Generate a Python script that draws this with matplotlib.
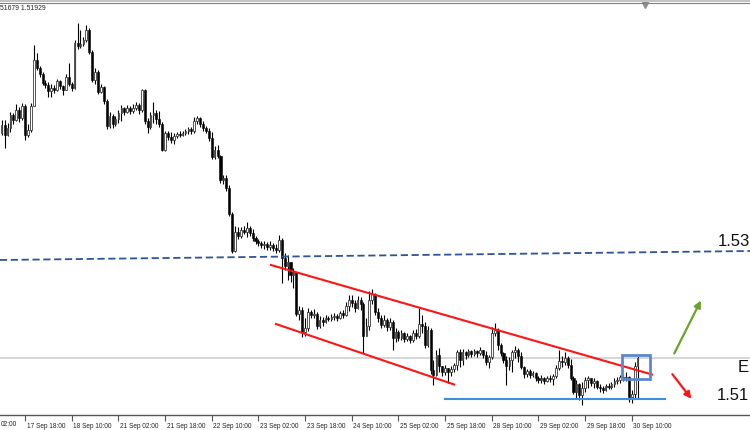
import numpy as np
import matplotlib
matplotlib.use("Agg")
import matplotlib.pyplot as plt
from matplotlib.patches import Rectangle
from matplotlib import transforms

# H1 bars, 17 Sep 10:00 .. 30 Sep 12:00 (open of each bar = previous close)
open0 = 1.5421
closes = [
    1.5429, 1.5419, 1.5426, 1.5439, 1.5434, 1.5444, 1.5436, 1.5448, 1.5419, 1.5424,
    1.5448, 1.5494, 1.5486, 1.5480, 1.5471, 1.5469, 1.5463, 1.5466, 1.5464, 1.5473,
    1.5468, 1.5464, 1.5477, 1.5470, 1.5466, 1.5511, 1.5508, 1.5510, 1.5514, 1.5524,
    1.5502, 1.5474, 1.5482, 1.5462, 1.5467, 1.5453, 1.5428, 1.5438, 1.5430, 1.5435,
    1.5441, 1.5446, 1.5442, 1.5446, 1.5443, 1.5446, 1.5449, 1.5444, 1.5464, 1.5433,
    1.5427, 1.5439, 1.5441, 1.5435, 1.5430, 1.5404, 1.5421, 1.5417, 1.5414, 1.5418,
    1.5420, 1.5419, 1.5421, 1.5423, 1.5425, 1.5423, 1.5433, 1.5436, 1.5430, 1.5426,
    1.5423, 1.5416, 1.5397, 1.5404, 1.5398, 1.5374, 1.5376, 1.5366, 1.5340, 1.5303,
    1.5322, 1.5318, 1.5324, 1.5322, 1.5326, 1.5321, 1.5316, 1.5313, 1.5311, 1.5309,
    1.5310, 1.5307, 1.5309, 1.5306, 1.5304, 1.5314, 1.5296, 1.5288, 1.5292, 1.5279,
    1.5282, 1.5240, 1.5244, 1.5222, 1.5226, 1.5242, 1.5239, 1.5240, 1.5228, 1.5234,
    1.5232, 1.5236, 1.5235, 1.5237, 1.5238, 1.5236, 1.5241, 1.5239, 1.5248, 1.5254,
    1.5251, 1.5246, 1.5254, 1.5250, 1.5218, 1.5228, 1.5254, 1.5260, 1.5242, 1.5236,
    1.5229, 1.5234, 1.5227, 1.5232, 1.5216, 1.5222, 1.5216, 1.5221, 1.5215, 1.5218,
    1.5214, 1.5221, 1.5218, 1.5230, 1.5228, 1.5209, 1.5224, 1.5184, 1.5179, 1.5199,
    1.5188, 1.5182, 1.5186, 1.5182, 1.5185, 1.5189, 1.5202, 1.5194, 1.5202, 1.5199,
    1.5203, 1.5200, 1.5203, 1.5201, 1.5204, 1.5199, 1.5192, 1.5197, 1.5221, 1.5224,
    1.5209, 1.5201, 1.5194, 1.5188, 1.5194, 1.5202, 1.5204, 1.5198, 1.5187, 1.5180,
    1.5183, 1.5179, 1.5181, 1.5176, 1.5174, 1.5176, 1.5173, 1.5176, 1.5175, 1.5178,
    1.5186, 1.5193, 1.5192, 1.5196, 1.5189, 1.5176, 1.5162, 1.5170, 1.5159, 1.5166,
    1.5174, 1.5176, 1.5171, 1.5173, 1.5167, 1.5166, 1.5164, 1.5168, 1.5167, 1.5170,
    1.5173, 1.5174, 1.5177, 1.5176, 1.5177, 1.5157, 1.5160, 1.5188, 1.5196,
]
highs = [
    1.5434, 1.5434, 1.5431, 1.5442, 1.5441, 1.5450, 1.5447, 1.5451, 1.5450, 1.5430,
    1.5451, 1.5509, 1.5501, 1.5488, 1.5482, 1.5474, 1.5472, 1.5470, 1.5469, 1.5475,
    1.5474, 1.5469, 1.5480, 1.5491, 1.5472, 1.5514, 1.5531, 1.5524, 1.5517, 1.5529,
    1.5526, 1.5504, 1.5486, 1.5484, 1.5470, 1.5468, 1.5455, 1.5442, 1.5440, 1.5438,
    1.5444, 1.5449, 1.5447, 1.5449, 1.5448, 1.5450, 1.5452, 1.5451, 1.5465, 1.5465,
    1.5436, 1.5442, 1.5452, 1.5444, 1.5443, 1.5432, 1.5423, 1.5423, 1.5422, 1.5421,
    1.5422, 1.5423, 1.5423, 1.5425, 1.5427, 1.5427, 1.5437, 1.5438, 1.5437, 1.5433,
    1.5428, 1.5426, 1.5422, 1.5408, 1.5409, 1.5399, 1.5379, 1.5379, 1.5369, 1.5342,
    1.5328, 1.5327, 1.5327, 1.5328, 1.5332, 1.5328, 1.5325, 1.5318, 1.5315, 1.5313,
    1.5313, 1.5312, 1.5313, 1.5311, 1.5310, 1.5319, 1.5316, 1.5301, 1.5299, 1.5292,
    1.5286, 1.5282, 1.5248, 1.5247, 1.5236, 1.5246, 1.5244, 1.5245, 1.5242, 1.5238,
    1.5237, 1.5239, 1.5238, 1.5240, 1.5241, 1.5240, 1.5243, 1.5244, 1.5252, 1.5259,
    1.5259, 1.5254, 1.5258, 1.5257, 1.5252, 1.5236, 1.5263, 1.5265, 1.5261, 1.5246,
    1.5239, 1.5239, 1.5236, 1.5236, 1.5234, 1.5226, 1.5224, 1.5224, 1.5222, 1.5221,
    1.5219, 1.5224, 1.5225, 1.5246, 1.5239, 1.5232, 1.5228, 1.5226, 1.5194, 1.5204,
    1.5206, 1.5188, 1.5189, 1.5186, 1.5188, 1.5191, 1.5204, 1.5205, 1.5205, 1.5203,
    1.5205, 1.5204, 1.5205, 1.5204, 1.5207, 1.5204, 1.5203, 1.5199, 1.5227, 1.5231,
    1.5226, 1.5211, 1.5202, 1.5198, 1.5197, 1.5204, 1.5208, 1.5206, 1.5202, 1.5188,
    1.5185, 1.5185, 1.5183, 1.5182, 1.5178, 1.5179, 1.5177, 1.5178, 1.5179, 1.5180,
    1.5189, 1.5204, 1.5198, 1.5202, 1.5198, 1.5195, 1.5178, 1.5174, 1.5171, 1.5172,
    1.5177, 1.5178, 1.5176, 1.5176, 1.5174, 1.5170, 1.5168, 1.5170, 1.5171, 1.5172,
    1.5176, 1.5177, 1.5179, 1.5179, 1.5182, 1.5178, 1.5164, 1.5192, 1.5198,
]
lows = [
    1.5419, 1.5406, 1.5418, 1.5422, 1.5430, 1.5433, 1.5432, 1.5434, 1.5414, 1.5417,
    1.5422, 1.5448, 1.5484, 1.5477, 1.5469, 1.5466, 1.5457, 1.5457, 1.5461, 1.5463,
    1.5465, 1.5459, 1.5464, 1.5468, 1.5463, 1.5465, 1.5505, 1.5506, 1.5508, 1.5512,
    1.5500, 1.5472, 1.5470, 1.5460, 1.5461, 1.5450, 1.5425, 1.5426, 1.5426, 1.5428,
    1.5431, 1.5433, 1.5439, 1.5441, 1.5440, 1.5441, 1.5444, 1.5440, 1.5442, 1.5430,
    1.5421, 1.5425, 1.5431, 1.5430, 1.5427, 1.5403, 1.5403, 1.5414, 1.5411, 1.5410,
    1.5416, 1.5417, 1.5418, 1.5419, 1.5420, 1.5420, 1.5421, 1.5430, 1.5427, 1.5423,
    1.5421, 1.5413, 1.5395, 1.5395, 1.5396, 1.5371, 1.5370, 1.5363, 1.5338, 1.5301,
    1.5302, 1.5315, 1.5316, 1.5320, 1.5317, 1.5318, 1.5313, 1.5310, 1.5308, 1.5306,
    1.5305, 1.5304, 1.5304, 1.5303, 1.5301, 1.5302, 1.5271, 1.5284, 1.5274, 1.5272,
    1.5266, 1.5238, 1.5234, 1.5217, 1.5218, 1.5223, 1.5236, 1.5236, 1.5225, 1.5226,
    1.5228, 1.5231, 1.5233, 1.5233, 1.5234, 1.5233, 1.5235, 1.5236, 1.5238, 1.5243,
    1.5247, 1.5242, 1.5245, 1.5244, 1.5201, 1.5221, 1.5224, 1.5250, 1.5239, 1.5232,
    1.5226, 1.5227, 1.5223, 1.5224, 1.5204, 1.5212, 1.5213, 1.5214, 1.5212, 1.5213,
    1.5211, 1.5212, 1.5215, 1.5216, 1.5221, 1.5206, 1.5207, 1.5180, 1.5169, 1.5178,
    1.5182, 1.5178, 1.5179, 1.5171, 1.5178, 1.5182, 1.5184, 1.5187, 1.5189, 1.5195,
    1.5197, 1.5197, 1.5198, 1.5197, 1.5199, 1.5196, 1.5189, 1.5186, 1.5195, 1.5218,
    1.5204, 1.5198, 1.5191, 1.5169, 1.5184, 1.5182, 1.5196, 1.5192, 1.5185, 1.5176,
    1.5177, 1.5176, 1.5177, 1.5173, 1.5171, 1.5171, 1.5170, 1.5172, 1.5172, 1.5169,
    1.5176, 1.5184, 1.5187, 1.5189, 1.5186, 1.5174, 1.5160, 1.5156, 1.5154, 1.5149,
    1.5162, 1.5166, 1.5168, 1.5166, 1.5165, 1.5162, 1.5161, 1.5163, 1.5165, 1.5165,
    1.5167, 1.5170, 1.5171, 1.5173, 1.5173, 1.5152, 1.5151, 1.5155, 1.5156,
]

tick_bars = [8, 24, 40, 56, 72, 88, 104, 120, 136, 152, 168, 184, 200, 216]
tick_labels = ["17 Sep 18:00", "18 Sep 10:00", "21 Sep 02:00",
               "21 Sep 18:00", "22 Sep 10:00", "23 Sep 02:00", "23 Sep 18:00",
               "24 Sep 10:00", "25 Sep 02:00", "25 Sep 18:00", "28 Sep 10:00",
               "29 Sep 02:00", "29 Sep 18:00", "30 Sep 10:00"]
first_label = "02:00"   # tail of the "17 Sep 02:00" label, cut by the window edge

# drawn objects, as (bar, price)
level_153 = [(-0.6, 1.5294), (256.5, 1.5303)]
channel_top = [(92.3, 1.5289), (222.9, 1.51795)]
channel_bottom = [(94.0, 1.5230), (155.1, 1.51695)]
support = [(151.8, 1.5155), (227.2, 1.5155)]
bid = 1.5196
box_bars = (212.7, 222.3)
box_prices = (1.5175, 1.5199)
up_arrow = [(230.1, 1.5198), (240.1, 1.5256)]
down_arrow = [(229.3, 1.5182), (237.0, 1.5153)]

fig = plt.figure(figsize=(7.5, 4.3), dpi=100)
ax = fig.add_axes([0, 15 / 430, 1, 412 / 430])

c = np.array(closes)
o = np.r_[open0, c[:-1]]
h = np.array(highs)
l = np.array(lows)
x = np.arange(len(c))
up = c >= o

ax.vlines(x, l, h, color="black", lw=0.8, zorder=2)
ax.bar(x[up], c[up] - o[up], bottom=o[up], width=0.55, color="white",
       edgecolor="#3a3a3a", lw=0.6, zorder=3)
ax.bar(x[~up], o[~up] - c[~up], bottom=c[~up], width=0.7, color="black",
       edgecolor="black", lw=0.4, zorder=3)

# lines and objects
ax.axhline(bid, color="#cfcfcf", lw=1.2, zorder=1)
lx, ly = zip(*level_153)
ax.plot(lx, ly, color="#2f5597", lw=1.3, ls=(0, (4, 2)), zorder=4)
for seg in (channel_top, channel_bottom):
    sx, sy = zip(*seg)
    ax.plot(sx, sy, color="#ff1414", lw=1.5, zorder=4)
sx, sy = zip(*support)
ax.plot(sx, sy, color="#3b8fe3", lw=1.5, zorder=4)
ax.add_patch(Rectangle((box_bars[0], box_prices[0]), box_bars[1] - box_bars[0],
                       box_prices[1] - box_prices[0], fill=False,
                       edgecolor="#5b87cc", lw=2, zorder=5))
ax.annotate("", xy=up_arrow[1], xytext=up_arrow[0],
            arrowprops=dict(arrowstyle="-|>", color="#6aa329", lw=1.6, mutation_scale=10))
ax.annotate("", xy=down_arrow[1], xytext=down_arrow[0],
            arrowprops=dict(arrowstyle="-|>", color="#ff1414", lw=1.6, mutation_scale=10))

big = dict(fontsize=12, family=["Liberation Sans", "DejaVu Sans"], color="#111111", va="center")
fig.text(718 / 750, 1 - 241 / 430, "1.53", **big)
fig.text(738 / 750, 1 - 368 / 430, "E", **big)
fig.text(717 / 750, 1 - 396 / 430, "1.51", **big)
fig.text(0, 1 - 9 / 430, "51679 1.51929", fontsize=4.9, va="center",
         family=["Liberation Sans", "DejaVu Sans"], color="#222222")

# top border and chart-shift marker
fig.add_artist(Rectangle((0, 1 - 2 / 430), 1, 2 / 430, transform=fig.transFigure,
                         color="#c4c4c4", lw=0))
fig.add_artist(plt.Line2D([0, 1], [1 - 2.5 / 430] * 2, transform=fig.transFigure,
                          color="#808080", lw=0.8))
ax.plot([220.5], [1 - 2 / 412], marker="v", ms=5, color="#909090",
        transform=transforms.blended_transform_factory(ax.transData, ax.transAxes),
        clip_on=False)

# axes
for s in ("top", "left", "right"):
    ax.spines[s].set_visible(False)
ax.spines["bottom"].set_color("#555555")
ax.spines["bottom"].set_linewidth(1)
ax.set_yticks([])
ax.set_xticks(tick_bars, tick_labels)
ax.tick_params(axis="x", direction="out", length=4, width=0.8, color="#555555", pad=1.5,
               labelsize=4.7, labelcolor="#222222")
off = transforms.ScaledTranslation(1.5 / 100, 0, fig.dpi_scale_trans)
for t in ax.get_xticklabels():
    t.set_ha("left")
    t.set_family(["Liberation Sans", "DejaVu Sans"])
    t.set_transform(t.get_transform() + off)

lab_tr = ax.transAxes + transforms.ScaledTranslation(1 / 100, -5.5 / 100, fig.dpi_scale_trans)
ax.text(0, 0, first_label, transform=lab_tr, ha="left", va="top",
        fontsize=4.7, family=["Liberation Sans", "DejaVu Sans"], color="#222222",
        clip_on=False)

# limits last, so the ticks do not widen the view
ax.set_xlim(-0.58, 256.5)
ax.set_ylim(1.5139, 1.5551)

fig.savefig("out.png", dpi=100)
